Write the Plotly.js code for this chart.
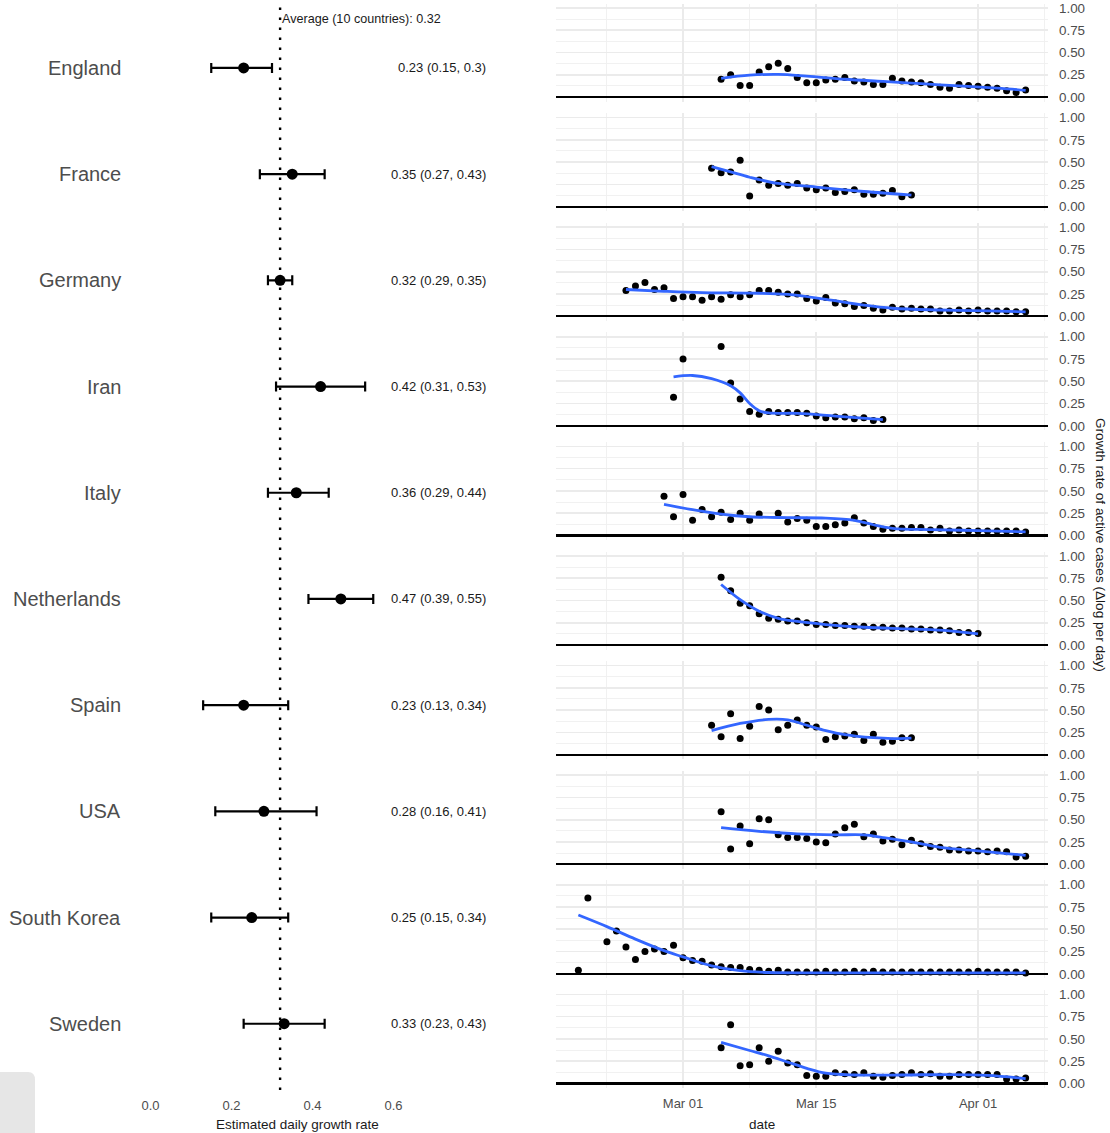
<!DOCTYPE html>
<html>
<head>
<meta charset="utf-8">
<script src="https://cdn.plot.ly/plotly-3.0.1.min.js"></script>
<style>html,body{margin:0;padding:0;background:#fff;}#chart{width:1110px;height:1133px;}</style>
</head>
<body>
<div id="chart"></div>
<script>
// ---------- Forest plot data ----------
const countries = ['England','France','Germany','Iran','Italy','Netherlands','Spain','USA','South Korea','Sweden'];
const estimate = [0.23,0.35,0.32,0.42,0.36,0.47,0.23,0.28,0.25,0.33];
const lower    = [0.15,0.27,0.29,0.31,0.29,0.39,0.13,0.16,0.15,0.23];
const upper    = [0.30,0.43,0.35,0.53,0.44,0.55,0.34,0.41,0.34,0.43];
const estimateText = ['0.23 (0.15, 0.3)','0.35 (0.27, 0.43)','0.32 (0.29, 0.35)','0.42 (0.31, 0.53)','0.36 (0.29, 0.44)',
                      '0.47 (0.39, 0.55)','0.23 (0.13, 0.34)','0.28 (0.16, 0.41)','0.25 (0.15, 0.34)','0.33 (0.23, 0.43)'];
const averageRate = 0.32;
const averageLabel = 'Average (10 countries): 0.32';
const rateTickVals = [0, 0.2, 0.4, 0.6];
const rateTickText = ['0.0','0.2','0.4','0.6'];

// ---------- Daily growth-rate series (first date, then one value per day; null = no observation) ----------
const startDates = ['2020-03-05','2020-03-04','2020-02-24','2020-02-29','2020-02-28','2020-03-05','2020-03-04','2020-03-05','2020-02-19','2020-03-05'];
const rateEngland = [0.20,0.25,0.13,0.13,0.28,0.34,0.38,0.32,0.22,0.16,0.16,0.19,0.20,0.22,0.18,0.17,0.14,0.14,0.21,0.18,0.17,0.16,0.14,0.11,0.10,0.14,0.13,0.12,0.11,0.10,0.07,0.05,0.08];
const rateFrance = [0.43,0.38,0.39,0.52,0.12,0.30,0.24,0.26,0.24,0.26,0.21,0.19,0.21,0.16,0.17,0.19,0.14,0.14,0.15,0.18,0.11,0.13];
const rateGermany = [0.29,0.34,0.38,0.30,0.32,0.20,0.22,0.22,0.18,0.22,0.19,0.24,0.22,0.24,0.29,0.29,0.27,0.25,0.25,0.20,0.17,0.21,0.15,0.14,0.11,0.12,0.09,0.07,0.10,0.08,0.09,0.08,0.08,0.06,0.06,0.07,0.06,0.07,0.06,0.06,0.06,0.05,0.05];
const rateIran = [0.32,0.75,null,null,null,0.89,0.48,0.30,0.16,0.13,0.16,0.15,0.15,0.15,0.14,0.11,0.09,0.10,0.10,0.08,0.09,0.06,0.07];
const rateItaly = [0.44,0.21,0.46,0.17,0.29,0.21,0.26,0.18,0.25,0.17,0.24,null,0.25,0.15,0.19,0.17,0.10,0.10,0.12,0.14,0.20,0.14,0.10,0.07,0.08,0.08,0.09,0.09,0.06,0.08,0.05,0.06,0.05,0.05,0.05,0.05,0.05,0.05,0.04];
const rateNetherlands = [0.76,0.61,0.47,0.44,0.35,0.30,0.29,0.27,0.27,0.25,0.23,0.23,0.22,0.22,0.21,0.21,0.20,0.20,0.19,0.19,0.18,0.18,0.17,0.17,0.16,0.14,0.14,0.13];
const rateSpain = [0.33,0.20,0.46,0.18,0.32,0.54,0.50,0.28,0.33,0.39,0.33,0.31,0.17,0.20,0.21,0.23,0.16,0.23,0.14,0.15,0.19,0.19];
const rateUSA = [0.59,0.17,0.43,0.23,0.51,0.50,0.33,0.30,0.30,0.29,0.25,0.24,0.34,0.41,0.45,0.31,0.34,0.26,0.28,0.22,0.27,0.23,0.20,0.19,0.16,0.16,0.15,0.15,0.14,0.15,0.14,0.08,0.09];
const rateSouthKorea = [0.04,0.85,null,0.36,0.48,0.30,0.16,0.25,0.28,0.25,0.32,0.18,0.15,0.14,0.10,0.08,0.07,0.07,0.05,0.04,0.03,0.04,
  0.02,0.02,0.02,0.02,0.03,0.02,0.02,0.03,0.02,0.03,0.02,0.02,0.02,0.02,0.02,0.02,0.02,0.02,0.02,0.02,0.03,0.02,0.02,0.02,0.02,0.01];
const rateSweden = [0.40,0.66,0.20,0.21,0.40,0.25,0.36,0.23,0.21,0.09,0.08,0.08,0.12,0.11,0.10,0.12,0.08,0.07,0.09,0.10,0.12,0.10,0.11,0.08,0.08,0.10,0.10,0.10,0.10,0.10,0.05,0.05,0.06];
const dailyRates = [rateEngland,rateFrance,rateGermany,rateIran,rateItaly,rateNetherlands,rateSpain,rateUSA,rateSouthKorea,rateSweden];

// ---------- Smoothed trend ----------
const smoothDates = [
  ['2020-03-05','2020-03-08','2020-03-11','2020-03-14','2020-03-18','2020-03-22','2020-03-26','2020-03-30','2020-04-03','2020-04-06'],
  ['2020-03-04','2020-03-06','2020-03-08','2020-03-11','2020-03-15','2020-03-20','2020-03-25'],
  ['2020-02-24','2020-02-28','2020-03-03','2020-03-08','2020-03-12','2020-03-16','2020-03-20','2020-03-23','2020-03-28','2020-04-02','2020-04-06'],
  ['2020-02-29','2020-03-02','2020-03-04','2020-03-06','2020-03-07','2020-03-08','2020-03-09','2020-03-10','2020-03-13','2020-03-17','2020-03-22'],
  ['2020-02-28','2020-03-02','2020-03-05','2020-03-08','2020-03-12','2020-03-16','2020-03-19','2020-03-21','2020-03-23','2020-03-27','2020-04-01','2020-04-06'],
  ['2020-03-05','2020-03-07','2020-03-09','2020-03-11','2020-03-13','2020-03-16','2020-03-20','2020-03-25','2020-03-29','2020-04-01'],
  ['2020-03-04','2020-03-07','2020-03-10','2020-03-12','2020-03-14','2020-03-16','2020-03-18','2020-03-21','2020-03-23','2020-03-25'],
  ['2020-03-05','2020-03-09','2020-03-13','2020-03-17','2020-03-20','2020-03-22','2020-03-25','2020-03-28','2020-04-01','2020-04-04','2020-04-06'],
  ['2020-02-19','2020-02-22','2020-02-25','2020-02-28','2020-03-01','2020-03-04','2020-03-07','2020-03-10','2020-03-15','2020-03-25','2020-04-06'],
  ['2020-03-05','2020-03-08','2020-03-10','2020-03-12','2020-03-14','2020-03-16','2020-03-19','2020-03-24','2020-03-29','2020-04-02','2020-04-06']
];
const smoothRates = [
  [0.21,0.245,0.255,0.235,0.20,0.175,0.15,0.125,0.10,0.075],
  [0.45,0.39,0.33,0.26,0.22,0.17,0.13],
  [0.30,0.28,0.265,0.26,0.245,0.19,0.125,0.09,0.07,0.06,0.05],
  [0.55,0.565,0.53,0.45,0.37,0.25,0.17,0.145,0.14,0.11,0.07],
  [0.35,0.29,0.24,0.21,0.20,0.195,0.17,0.12,0.08,0.065,0.055,0.04],
  [0.68,0.51,0.38,0.30,0.265,0.23,0.20,0.18,0.16,0.125],
  [0.27,0.35,0.395,0.39,0.33,0.27,0.225,0.19,0.18,0.185],
  [0.41,0.37,0.34,0.33,0.33,0.30,0.25,0.19,0.15,0.12,0.10],
  [0.66,0.53,0.39,0.26,0.19,0.09,0.035,0.015,0.01,0.01,0.01],
  [0.46,0.37,0.31,0.24,0.17,0.115,0.095,0.095,0.10,0.09,0.055]
];

const dateTickVals = ['2020-03-01','2020-03-15','2020-04-01'];
const dateTickText = ['Mar 01','Mar 15','Apr 01'];
const dateMinorVals = ['2020-02-22','2020-03-08','2020-03-23 12:00','2020-04-08'];
const growthTickVals = [0,0.25,0.5,0.75,1];
const growthTickText = ['0.00','0.25','0.50','0.75','1.00'];
const growthMinorVals = [0.125,0.375,0.625,0.875];

// ---------- helpers ----------
const W = 1110, H = 1133;
const px = p => p / W;
const py = p => 1 - p / H;
function daySeq(start, n) {
  const t0 = Date.parse(start + 'T00:00:00Z');
  return Array.from({length: n}, (_, i) => new Date(t0 + i * 86400000).toISOString().slice(0, 10));
}
const FONT = 'Liberation Sans, Arial, sans-serif';
const GREY = '#4d4d4d';

const traces = [];
const annotations = [];
const shapes = [];

// ---------- forest plot ----------
const rowIdx = countries.map((_, i) => i);
traces.push({
  type: 'scatter', mode: 'markers', xaxis: 'x', yaxis: 'y',
  x: estimate, y: rowIdx,
  marker: {color: '#000', size: 11},
  error_x: {type: 'data', symmetric: false,
    array: upper.map((u, i) => u - estimate[i]),
    arrayminus: lower.map((l, i) => estimate[i] - l),
    color: '#000', thickness: 2.2, width: 5},
  hoverinfo: 'skip'
});
countries.forEach((c, i) => {
  annotations.push({xref: 'x', yref: 'y', x: (123 - 150.5) / 405, y: i, text: c, showarrow: false,
    xanchor: 'right', yanchor: 'middle', font: {family: FONT, size: 20, color: GREY}});
  annotations.push({xref: 'x', yref: 'y', x: (488 - 150.5) / 405, y: i, text: estimateText[i], showarrow: false,
    xanchor: 'right', yanchor: 'middle', font: {family: FONT, size: 13, color: '#1a1a1a'}});
});
annotations.push({xref: 'x', yref: 'paper', x: averageRate, y: py(19), text: averageLabel, showarrow: false,
  xanchor: 'left', yanchor: 'middle', xshift: 0, font: {family: FONT, size: 12.6, color: '#1a1a1a'}});
shapes.push({type: 'line', xref: 'x', yref: 'paper', x0: averageRate, x1: averageRate, y0: py(1090), y1: 1,
  line: {color: '#000', width: 2.4, dash: '2.5px,7.5px'}});

const layout = {
  width: W, height: H, margin: {l: 0, r: 0, t: 0, b: 0},
  paper_bgcolor: '#fff', plot_bgcolor: '#fff', showlegend: false,
  font: {family: FONT, color: GREY},
  xaxis: {domain: [0, px(540)], range: [-150.5 / 405, (540 - 150.5) / 405], tickmode: 'array',
    tickvals: rateTickVals, ticktext: rateTickText, showgrid: false, zeroline: false, showline: false,
    ticks: '', ticklabelstandoff: 6, tickfont: {family: FONT, size: 13, color: GREY}, anchor: 'y', fixedrange: true},
  yaxis: {domain: [py(1090), 1], range: [9.624, -0.640], showgrid: false, zeroline: false, showline: false,
    showticklabels: false, ticks: '', anchor: 'x'},
  annotations: annotations, shapes: shapes
};

// ---------- small multiples ----------
const xL = 556, xR = 1048, step = 109.6;
for (let k = 0; k < 10; k++) {
  const ax = k + 2;
  const dates = daySeq(startDates[k], dailyRates[k].length);
  traces.push({type: 'scatter', mode: 'markers', xaxis: 'x' + ax, yaxis: 'y' + ax,
    x: dates, y: dailyRates[k], marker: {color: '#000', size: 7}, hoverinfo: 'skip'});
  traces.push({type: 'scatter', mode: 'lines', xaxis: 'x' + ax, yaxis: 'y' + ax,
    x: smoothDates[k], y: smoothRates[k], line: {color: '#3366FF', width: 2.8, shape: 'spline', smoothing: 1},
    hoverinfo: 'skip'});
  layout['xaxis' + ax] = {
    domain: [px(xL), px(xR)], anchor: 'y' + ax, type: 'date',
    range: ['2020-02-16 15:36', '2020-04-08 08:24'],
    tickmode: 'array', tickvals: dateTickVals, ticktext: dateTickText,
    showticklabels: k === 9, ticks: '', ticklabelstandoff: 6,
    tickfont: {family: FONT, size: 13, color: GREY},
    showgrid: true, gridcolor: '#ebebeb', gridwidth: 1.6,
    minor: {tickmode: 'array', tickvals: dateMinorVals, showgrid: true, gridcolor: '#efefef', gridwidth: 0.9},
    zeroline: false, showline: false
  };
  layout['yaxis' + ax] = {
    domain: [py(101.5 + step * k), py(3.5 + step * k)], anchor: 'x' + ax, side: 'right',
    range: [-0.05, 1.05], tickmode: 'array', tickvals: growthTickVals, ticktext: growthTickText,
    ticks: '', ticklabelstandoff: 10, tickfont: {family: FONT, size: 13.4, color: GREY},
    showgrid: true, gridcolor: '#ebebeb', gridwidth: 1.6,
    minor: {tickmode: 'array', tickvals: growthMinorVals, showgrid: true, gridcolor: '#efefef', gridwidth: 0.9},
    zeroline: true, zerolinecolor: '#000', zerolinewidth: 2.2, showline: false
  };
}

// ---------- axis titles ----------
annotations.push({xref: 'paper', yref: 'paper', x: px(297), y: py(1124), text: 'Estimated daily growth rate',
  showarrow: false, xanchor: 'center', yanchor: 'middle', font: {family: FONT, size: 13.5, color: '#1a1a1a'}});
annotations.push({xref: 'paper', yref: 'paper', x: px(762), y: py(1124), text: 'date',
  showarrow: false, xanchor: 'center', yanchor: 'middle', font: {family: FONT, size: 13.5, color: '#1a1a1a'}});
annotations.push({xref: 'paper', yref: 'paper', x: px(1100), y: py(545), text: 'Growth rate of active cases (Δlog per day)',
  showarrow: false, xanchor: 'center', yanchor: 'middle', textangle: 90, font: {family: FONT, size: 13.6, color: '#1a1a1a'}});

// grey tab in the bottom-left corner
shapes.push({type: 'path', xref: 'paper', yref: 'paper', layer: 'below',
  path: `M 0 ${py(1072)} L ${px(28)} ${py(1072)} Q ${px(35)} ${py(1072)} ${px(35)} ${py(1080)} L ${px(35)} 0 L 0 0 Z`,
  fillcolor: '#e6e6e6', line: {width: 0}});

Plotly.newPlot('chart', traces, layout, {staticPlot: true, displayModeBar: false});
</script>
</body>
</html>
